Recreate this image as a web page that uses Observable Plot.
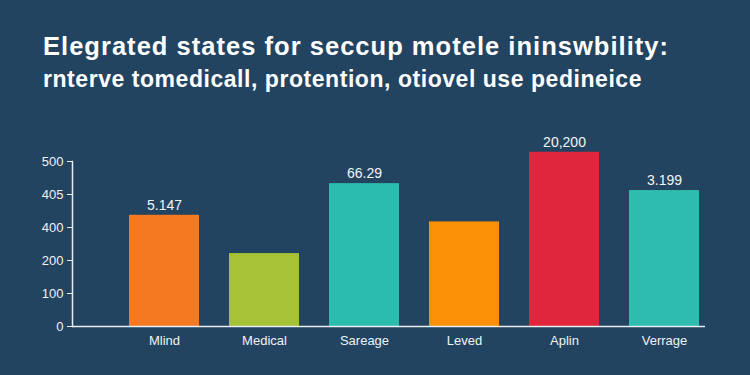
<!DOCTYPE html>
<html>
<head>
<meta charset="utf-8">
<script src="https://cdn.jsdelivr.net/npm/d3@7"></script>
<script src="https://cdn.jsdelivr.net/npm/@observablehq/plot@0.6"></script>
<style>
  html, body { margin: 0; padding: 0; background: #234461; width: 750px; height: 375px; overflow: hidden; }
  #wrap { position: relative; width: 750px; height: 375px; }
  .t1, .t2 { position: absolute; left: 43px; color: #ffffff; font-family: "Liberation Sans", Arial, sans-serif; font-weight: 700; white-space: nowrap; }
  .t1 { top: 31px; font-size: 25.5px; line-height: 30px; }
  .t2 { top: 65.5px; font-size: 23px; line-height: 27px; }
  #chart { position: absolute; left: 0; top: 130px; }
</style>
</head>
<body>
<div id="wrap">
  <div class="t1" id="title"></div>
  <div class="t2" id="subtitle"></div>
  <div id="chart"></div>
</div>
<script>
const titleText = "Elegrated states for seccup motele ininswbility:";
const subtitleText = "rnterve tomedicall, protention, otiovel use pedineice";

const categories = ["Mlind", "Medical", "Sareage", "Leved", "Aplin", "Verrage"];
const values = [337, 221, 433, 317, 528, 412];
const valueLabels = ["5.147", "", "66.29", "", "20,200", "3.199"];
const barColors = ["#f47920", "#a6c236", "#2cbcae", "#fb8f05", "#e0263c", "#2dbcae"];
const yTicks = [0, 100, 200, 300, 400, 500];
const yTickLabels = ["0", "100", "200", "400", "405", "500"];

function fitText(el, text, targetWidth) {
  el.textContent = text;
  el.style.letterSpacing = "0px";
  const w = el.getBoundingClientRect().width;
  const n = text.length;
  el.style.letterSpacing = ((targetWidth - w) / n).toFixed(3) + "px";
}
fitText(document.getElementById("title"), titleText, 626);
fitText(document.getElementById("subtitle"), subtitleText, 599);

const data = categories.map((c, i) => ({cat: c, value: values[i], label: valueLabels[i], color: barColors[i]}));

const chart = Plot.plot({
  width: 750,
  height: 245,
  marginTop: 31,
  marginBottom: 49,
  marginLeft: 72,
  marginRight: 45,
  style: {background: "transparent", color: "#eef2f5", fontFamily: "'Liberation Sans', Arial, sans-serif", fontSize: "13px"},
  x: {domain: categories, paddingInner: 0.3, paddingOuter: 0.293, align: 0.9, label: null},
  y: {domain: [0, 500], label: null},
  marks: [
    Plot.barY(data, {x: "cat", y: "value", fill: "color"}),
    Plot.text(data, {x: "cat", y: "value", text: "label", dy: -10, fill: "#f2f5f7", fontSize: 14}),
    Plot.ruleY([0], {stroke: "#e8eef2", strokeWidth: 1.5}),
    Plot.frame({anchor: "left", stroke: "#e8eef2", strokeWidth: 1.5}),
    Plot.axisY({ticks: yTicks, tickFormat: (d) => yTickLabels[yTicks.indexOf(d)], tickSize: 5, tickPadding: 4, stroke: "#e8eef2", fill: "#eef2f5", fontSize: 13, label: null}),
    Plot.axisX({tickSize: 0, tickPadding: 9, fill: "#eef2f5", fontSize: 13, label: null})
  ]
});
document.getElementById("chart").appendChild(chart);
</script>
</body>
</html>
